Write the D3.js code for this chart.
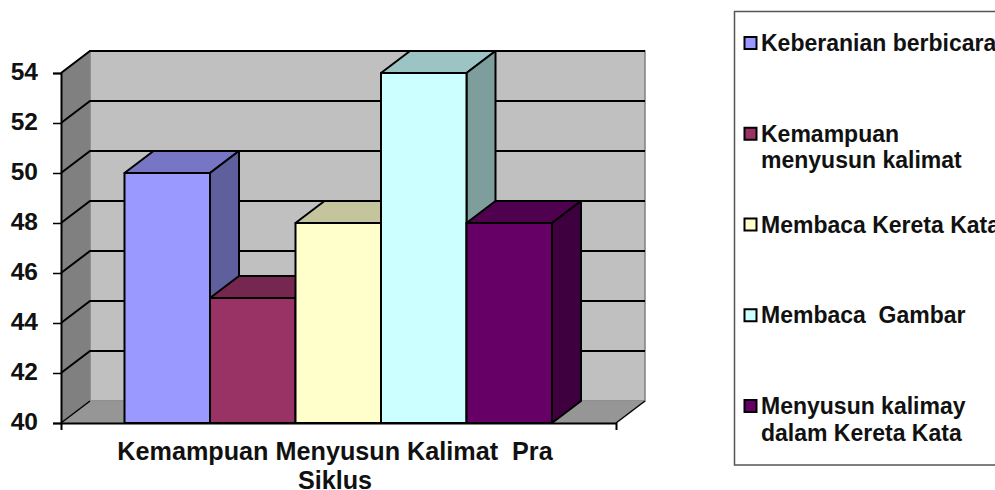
<!DOCTYPE html>
<html>
<head>
<meta charset="utf-8">
<script src="https://cdn.jsdelivr.net/npm/d3@7"></script>
<style>
  html, body { margin: 0; padding: 0; background: #fff; overflow: hidden; }
  text { font-family: "Liberation Sans", Arial, sans-serif; font-weight: bold; fill: #111; }
</style>
</head>
<body>
<svg id="chart" width="995" height="490"></svg>
<script>
// values
const categoryLines = ["Kemampuan Menyusun Kalimat  Pra", "Siklus"];
const seriesNames = ["Keberanian berbicara", "Kemampuan menyusun kalimat", "Membaca Kereta Kata", "Membaca  Gambar", "Menyusun kalimay dalam Kereta Kata"];
const seriesValues = [50, 45, 48, 54, 48];
const seriesColors = ["#9999ff", "#993366", "#ffffcc", "#ccffff", "#660066"];
const yTicks = [40, 42, 44, 46, 48, 50, 52, 54];
const legendLines = [["Keberanian berbicara"], ["Kemampuan", "menyusun kalimat"], ["Membaca Kereta Kata"], ["Membaca  Gambar"], ["Menyusun kalimay", "dalam Kereta Kata"]];

const plotLeft = 61, plotRight = 616, plotBottom = 423, plotTop = 73;
const depthX = 29, depthY = -22;

const svg = d3.select("#chart");

const yScale = d3.scaleLinear().domain([40, 54]).range([plotBottom, plotTop]);
const xScale0 = d3.scaleBand().domain(["cat"]).range([plotLeft, plotRight]);
// gap on each side of the group of bars
const xScale1 = d3.scaleBand().domain(seriesNames)
  .range([plotLeft + 63.5, plotRight - 64]);

const poly = (pts, fill) => svg.append("polygon")
  .attr("points", pts.map(p => p.join(",")).join(" "))
  .attr("fill", fill);

// walls
const topBack = plotTop + depthY, bottomBack = plotBottom + depthY;
poly([[plotLeft + depthX, topBack], [plotRight + depthX, topBack], [plotRight + depthX, bottomBack], [plotLeft + depthX, bottomBack]], "#c0c0c0")
  .attr("stroke", "#808080").attr("stroke-width", 1.5);
poly([[plotLeft, plotTop], [plotLeft + depthX, topBack], [plotLeft + depthX, bottomBack], [plotLeft, plotBottom]], "#808080");
poly([[plotLeft, plotBottom], [plotLeft + depthX, bottomBack], [plotRight + depthX, bottomBack], [plotRight, plotBottom]], "#969696");

// gridlines, side wall then back wall
yTicks.slice(1).forEach(t => {
  const y = yScale(t);
  svg.append("path")
    .attr("d", `M${plotLeft},${y}L${plotLeft + depthX},${y + depthY}L${plotRight + depthX},${y + depthY}`)
    .attr("fill", "none").attr("stroke", "#000").attr("stroke-width", 2);
});

// floor edge
svg.append("path")
  .attr("d", `M${plotLeft},${plotBottom}L${plotLeft + depthX},${bottomBack}`)
  .attr("fill", "none").attr("stroke", "#000").attr("stroke-width", 1.5);
svg.append("path")
  .attr("d", `M${plotRight},${plotBottom}L${plotRight + depthX},${bottomBack}`)
  .attr("fill", "none").attr("stroke", "#000").attr("stroke-width", 1.5);

// bars
const shade = (c, k) => {
  const r = d3.rgb(c);
  return d3.rgb(r.r * k, r.g * k, r.b * k).formatHex();
};
seriesNames.forEach((name, i) => {
  const x0 = xScale1(name), x1 = x0 + xScale1.bandwidth();
  const y0 = yScale(seriesValues[i]);
  const g = svg.append("g").attr("stroke", "#000").attr("stroke-width", 2).attr("stroke-linejoin", "round");
  const face = (pts, fill) => g.append("polygon")
    .attr("points", pts.map(p => p.join(",")).join(" "))
    .attr("fill", fill);
  face([[x0, y0], [x0 + depthX, y0 + depthY], [x1 + depthX, y0 + depthY], [x1, y0]], shade(seriesColors[i], 0.77));
  face([[x1, y0], [x1 + depthX, y0 + depthY], [x1 + depthX, bottomBack], [x1, plotBottom]], shade(seriesColors[i], 0.62));
  face([[x0, y0], [x1, y0], [x1, plotBottom], [x0, plotBottom]], seriesColors[i]);
});

// axes
const yAxis = d3.axisLeft(yScale).tickValues(yTicks).tickSize(8);
const yG = svg.append("g").attr("transform", `translate(${plotLeft},0)`).call(yAxis);
yG.selectAll("line").attr("stroke", "#000").attr("stroke-width", 1.5);
yG.select(".domain").attr("stroke", "#000").attr("stroke-width", 2);
yG.selectAll("text").attr("font-size", 24.5).attr("fill", "#111")
  .attr("font-family", '"Liberation Sans", Arial, sans-serif').attr("x", -23).attr("dy", "0.28em");

const xAxis = d3.axisBottom(xScale0).tickValues([]).tickSize(0).tickSizeOuter(7);
const xG = svg.append("g").attr("transform", `translate(0,${plotBottom})`).call(xAxis);
xG.select(".domain").attr("stroke", "#000").attr("stroke-width", 2);

const catLabel = svg.append("text")
  .attr("text-anchor", "middle").attr("font-size", 25.2)
  .style("white-space", "pre");
categoryLines.forEach((line, i) => {
  catLabel.append("tspan").attr("x", xScale0("cat") + xScale0.bandwidth() / 2 - 3.5)
    .attr("y", 460 + i * 29).text(line);
});

// legend
svg.append("rect").attr("x", 734.5).attr("y", 11.5).attr("width", 300).attr("height", 453.5)
  .attr("fill", "#fff").attr("stroke", "#555").attr("stroke-width", 1.5);

const legendScale = d3.scalePoint().domain(seriesNames).range([43, 406]);
seriesNames.forEach((name, i) => {
  const y = legendScale(name);
  svg.append("rect").attr("x", 744.5).attr("y", y - 6).attr("width", 12).attr("height", 12)
    .attr("fill", seriesColors[i]).attr("stroke", "#000").attr("stroke-width", 2);
  const label = svg.append("text").attr("font-size", 23).style("white-space", "pre");
  legendLines[i].forEach((line, j) => {
    label.append("tspan").attr("x", 761).attr("y", y + 8 + j * 26.5).text(line);
  });
});
</script>
</body>
</html>
